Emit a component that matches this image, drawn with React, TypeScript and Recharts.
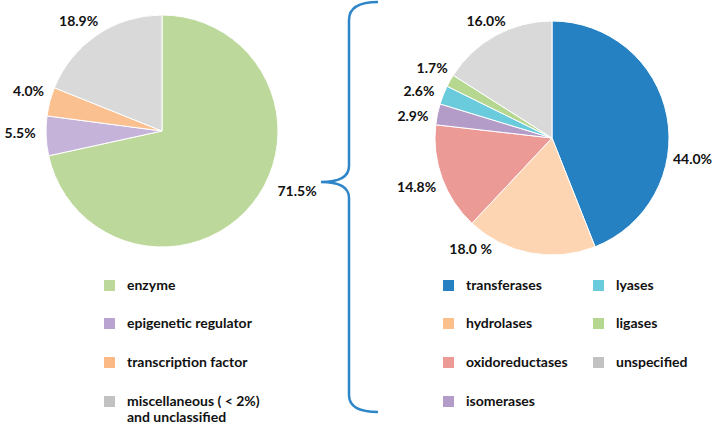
import { Cell, Pie, PieChart } from "recharts";

// left pie: target classes
const TARGET_NAMES = ["enzyme", "epigenetic regulator", "transcription factor", "miscellaneous ( < 2%)\nand unclassified"];
const TARGET_VALUES = [71.5, 5.5, 4.0, 18.9];
const TARGET_LABELS = ["71.5%", "5.5%", "4.0%", "18.9%"];
const TARGET_COLORS = ["#BDD89B", "#C5B3D9", "#FBC08F", "#D9D9D9"];
const TARGET_LEGEND_COLORS = ["#BDD89B", "#B9A3D0", "#FBBA85", "#C2C2C2"];

// right pie: enzyme classes
const ENZYME_NAMES = ["transferases", "hydrolases", "oxidoreductases", "isomerases", "lyases", "ligases", "unspecified"];
const ENZYME_VALUES = [44.0, 18.0, 14.8, 2.9, 2.6, 1.7, 16.0];
const ENZYME_LABELS = ["44.0%", "18.0 %", "14.8%", "2.9%", "2.6%", "1.7%", "16.0%"];
const ENZYME_COLORS = ["#2581C2", "#FDD5B2", "#EC9A96", "#B49CC9", "#6ACBDD", "#B6D78F", "#D9D9D9"];
const ENZYME_LEGEND_COLORS = ["#2581C2", "#FDBF8C", "#EC9A96", "#B49CC9", "#6ACBDD", "#B6D78F", "#C2C2C2"];

// hand placement tweaks for the percentage labels, like the original figure
const TARGET_NUDGE = [[26, -28], [-2, -4], [2, -5], [-5, 5]];
const ENZYME_NUDGE = [[2, 47], [-55, -28], [-3, 0], [-1, 6], [-2, 4], [3, -1], [2, 6]];

const FONT = "Lato, 'Open Sans', sans-serif";
const RAD = Math.PI / 180;

function makeLabel(labels: string[], nudge: number[][]) {
  return (props: any) => {
    const { cx, cy, midAngle, outerRadius, index } = props;
    const r = outerRadius + 24;
    const x = cx + r * Math.cos(-midAngle * RAD) + nudge[index][0];
    const y = cy + r * Math.sin(-midAngle * RAD) + nudge[index][1];
    return (
      <text
        x={x}
        y={y}
        textAnchor="middle"
        dominantBaseline="central"
        fill="#111"
        fontSize={14}
        fontWeight={700}
        fontFamily={FONT}
      >
        {labels[index]}
      </text>
    );
  };
}

function LegendItem({ x, y, color, name }: { x: number; y: number; color: string; name: string }) {
  return (
    <div style={{ position: "absolute", left: x, top: y - 6 }}>
      <div style={{ position: "absolute", left: 0, top: 0, width: 11, height: 11, background: color }} />
      <div
        style={{
          position: "absolute",
          left: 23,
          top: -3,
          whiteSpace: "pre",
          fontFamily: FONT,
          fontWeight: 700,
          fontSize: 14,
          lineHeight: "16px",
          color: "#111"
        }}
      >
        {name}
      </div>
    </div>
  );
}

const ROW_Y = [286, 324, 363, 402];

export default function App() {
  const targetData = TARGET_NAMES.map((name, i) => ({ name, value: TARGET_VALUES[i] }));
  const enzymeData = ENZYME_NAMES.map((name, i) => ({ name, value: ENZYME_VALUES[i] }));

  return (
    <div style={{ position: "absolute", left: 0, top: 0, width: 712, height: 425, background: "#fff", overflow: "hidden" }}>
      <PieChart width={712} height={425} style={{ position: "absolute", left: 0, top: 0 }}>
        <Pie
          data={targetData}
          dataKey="value"
          cx={157}
          cy={126}
          outerRadius={116}
          startAngle={90}
          endAngle={-270}
          stroke="#fff"
          strokeWidth={1}
          label={makeLabel(TARGET_LABELS, TARGET_NUDGE)}
          labelLine={false}
          isAnimationActive={false}
        >
          {targetData.map((d, i) => (
            <Cell key={d.name} fill={TARGET_COLORS[i]} />
          ))}
        </Pie>
        <Pie
          data={enzymeData}
          dataKey="value"
          cx={547}
          cy={133}
          outerRadius={117}
          startAngle={90}
          endAngle={-270}
          stroke="#fff"
          strokeWidth={1}
          label={makeLabel(ENZYME_LABELS, ENZYME_NUDGE)}
          labelLine={false}
          isAnimationActive={false}
        >
          {enzymeData.map((d, i) => (
            <Cell key={d.name} fill={ENZYME_COLORS[i]} />
          ))}
        </Pie>
      </PieChart>

      {/* curly brace linking enzyme slice to the breakdown */}
      <svg width={712} height={425} style={{ position: "absolute", left: 0, top: 0, pointerEvents: "none" }}>
        <path
          d="M 378 2 Q 349 2 349 20 L 349 166 Q 349 182 321 182 Q 349 182 349 198 L 349 395 Q 349 412 378 412"
          fill="none"
          stroke="#2E86C9"
          strokeWidth={2.5}
        />
      </svg>

      {TARGET_NAMES.map((name, i) => (
        <LegendItem key={name} x={104} y={ROW_Y[i]} color={TARGET_LEGEND_COLORS[i]} name={name} />
      ))}
      {ENZYME_NAMES.map((name, i) => (
        <LegendItem
          key={name}
          x={i < 4 ? 443 : 593}
          y={ROW_Y[i < 4 ? i : i - 4]}
          color={ENZYME_LEGEND_COLORS[i]}
          name={name}
        />
      ))}
    </div>
  );
}
